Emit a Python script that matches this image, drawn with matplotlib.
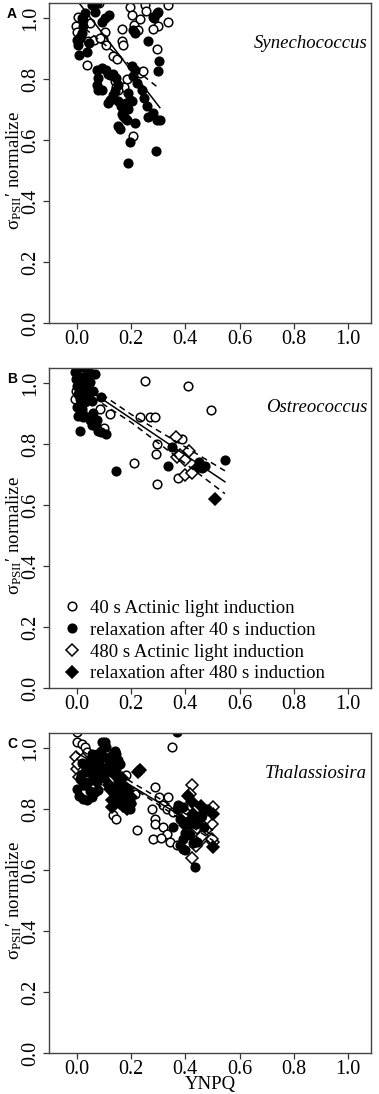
import matplotlib
matplotlib.use("Agg")
import matplotlib.pyplot as plt
from matplotlib.lines import Line2D

plt.rcParams['font.family'] = ['Liberation Serif', 'DejaVu Serif']
plt.rcParams['mathtext.fontset'] = 'custom'
plt.rcParams['mathtext.rm'] = 'Liberation Serif'
plt.rcParams['mathtext.it'] = 'Liberation Serif:italic'
plt.rcParams['mathtext.default'] = 'regular'

# ---------------- Panel A : Synechococcus ----------------
a_open_x = [-0.004, 0.005, -0.001, 0.011, 0.038, 0.048, 0.042, 0.064, 0.082, 0.103, 0.095, 0.109,
            0.132, 0.149, 0.167, 0.171, 0.166, 0.196, 0.202, 0.212, 0.226, 0.232, 0.253, 0.255,
            0.284, 0.300, 0.300, 0.282, 0.294, 0.337, 0.337, 0.183, 0.122, 0.140, 0.146, 0.173,
            0.208, 0.232, 0.245, 0.085, 0.153]
a_open_y = [0.974, 1.002, 0.955, 0.939, 0.847, 0.983, 0.923, 0.928, 1.048, 0.955, 0.930, 0.912,
            0.876, 0.865, 0.923, 0.912, 0.963, 1.037, 1.010, 0.977, 0.961, 0.996, 1.042, 1.024,
            0.999, 1.021, 0.974, 0.963, 0.898, 1.042, 0.988, 0.800, 0.814, 0.792, 0.774, 0.774,
            0.613, 0.819, 0.825, 0.934, 0.765]
a_fill_x = [0.009, 0.005, -0.001, 0.011, 0.017, 0.023, 0.017, 0.030, 0.039, 0.046, 0.054, 0.066,
            0.073, 0.091, 0.103, 0.119, 0.073, 0.079, 0.073, 0.079, 0.091, 0.091, 0.109, 0.116,
            0.122, 0.116, 0.134, 0.146, 0.153, 0.140, 0.134, 0.153, 0.159, 0.165, 0.171, 0.177,
            0.183, 0.189, 0.196, 0.189, 0.202, 0.181, 0.189, 0.196, 0.213, 0.153, 0.161, 0.169,
            0.202, 0.214, 0.208, 0.220, 0.239, 0.247, 0.257, 0.263, 0.282, 0.294, 0.306, 0.290,
            0.300, 0.304, 0.263, 0.214, 0.208, 0.282, 0.294, 0.023]
a_fill_y = [0.879, 0.912, 0.928, 0.934, 0.950, 0.972, 0.999, 1.015, 0.890, 0.917, 1.042, 1.021,
            1.048, 0.988, 0.999, 1.010, 0.830, 0.803, 0.781, 0.765, 0.765, 0.836, 0.830, 0.817,
            0.732, 0.722, 0.817, 0.803, 0.781, 0.760, 0.749, 0.645, 0.635, 0.684, 0.678, 0.673,
            0.665, 0.700, 0.732, 0.754, 0.727, 0.722, 0.526, 0.593, 0.656, 0.727, 0.711, 0.700,
            0.841, 0.830, 0.809, 0.787, 0.765, 0.738, 0.711, 0.676, 0.689, 0.667, 0.665, 0.564,
            0.825, 0.858, 0.926, 0.950, 0.961, 1.004, 1.015, 0.993]
a_fit_x = [0.0, 0.306]
a_fit_y = [1.058, 0.706]
a_dash1_x = [0.03, 0.296]
a_dash1_y = [0.965, 0.774]

# ---------------- Panel B : Ostreococcus ----------------
b_open_x = [0.251, 0.408, 0.493, 0.122, 0.232, 0.269, 0.288, 0.100, 0.296, 0.386, 0.292, 0.212,
            0.294, 0.374, -0.007, -0.004, 0.085, 0.042]
b_open_y = [1.008, 0.989, 0.910, 0.899, 0.888, 0.888, 0.888, 0.853, 0.801, 0.817, 0.768, 0.736,
            0.670, 0.689, 0.946, 0.975, 0.915, 0.953]
b_odia_x = [0.365, 0.413, 0.370, 0.380, 0.399, 0.399, 0.423]
b_odia_y = [0.823, 0.777, 0.757, 0.765, 0.747, 0.698, 0.706]
b_fill_x = [-0.007, -0.004, 0.001, 0.005, 0.011, 0.009, 0.017, 0.005, 0.036, 0.048, 0.060, 0.073,
            0.054, 0.023, 0.011, 0.079, 0.109, 0.030, 0.048, 0.060, 0.066, 0.036, 0.023, 0.048,
            0.054, 0.089, 0.017, 0.042, 0.144, 0.337, 0.349, 0.451, 0.460, 0.472, 0.546,
            0.000, 0.010, 0.020, 0.030, 0.010, 0.000, 0.020, 0.040, 0.060, 0.070, 0.090]
b_fill_y = [1.035, 1.013, 0.991, 0.964, 0.948, 0.926, 0.904, 0.893, 0.888, 0.877, 0.872, 0.877,
            0.861, 0.888, 0.844, 0.844, 0.834, 0.937, 0.970, 0.975, 1.029, 1.029, 1.002, 1.002,
            0.942, 0.955, 1.051, 1.046, 0.711, 0.727, 0.790, 0.741, 0.722, 0.727, 0.749,
            1.045, 1.020, 0.980, 0.960, 0.970, 0.920, 0.915, 0.990, 0.900, 0.860, 0.840]
b_fdia_x = [0.509, 0.448, 0.011]
b_fdia_y = [0.618, 0.725, 0.986]
b_fit_x = [0.0, 0.546]
b_fit_y = [1.003, 0.676]
b_up_x = [0.06, 0.20, 0.546]
b_up_y = [0.982, 0.897, 0.712]
b_lo_x = [0.06, 0.20, 0.546]
b_lo_y = [0.952, 0.871, 0.637]

# ---------------- Panel C : Thalassiosira ----------------
c_open_x = [0.001, -0.001, 0.017, 0.030, 0.036, 0.349, 0.181, 0.214, 0.288, 0.304, 0.337, 0.276,
            0.316, 0.331, 0.355, 0.132, 0.146, 0.220, 0.288, 0.288, 0.319, 0.331, 0.279, 0.312,
            0.343, 0.368]
c_open_y = [1.051, 1.021, 1.013, 1.002, 0.986, 1.002, 0.912, 0.850, 0.872, 0.839, 0.839, 0.801,
            0.812, 0.801, 0.790, 0.779, 0.768, 0.730, 0.768, 0.752, 0.741, 0.719, 0.703, 0.705,
            0.692, 0.681]
c_odia_x = [-0.004, 0.001, 0.005, 0.009, 0.423, 0.417, 0.503, 0.497, 0.472, 0.451, 0.460, 0.429,
            0.442, 0.423, 0.503, 0.399, 0.478, 0.405, 0.023, 0.440, 0.460, 0.480, 0.500, 0.430]
c_odia_y = [0.970, 0.931, 0.948, 0.904, 0.879, 0.850, 0.806, 0.752, 0.790, 0.725, 0.703, 0.714,
            0.736, 0.638, 0.692, 0.774, 0.730, 0.785, 0.964, 0.680, 0.710, 0.770, 0.700, 0.770]
c_fill_x = [-0.001, 0.009, 0.023, 0.038, 0.054, 0.066, 0.079, 0.011, 0.023, 0.030, 0.038, 0.048,
            0.060, 0.073, 0.091, 0.103, 0.109, 0.085, 0.079, 0.073, 0.042, 0.060, 0.140, 0.146,
            0.140, 0.159, 0.146, 0.153, 0.134, 0.165, 0.374, 0.392, 0.380, 0.390, 0.399, 0.380,
            0.355, 0.435, 0.368, 0.417, 0.442, 0.189, 0.171,
            0.020, 0.030, 0.050, 0.060, 0.070, 0.080, 0.090, 0.100, 0.100, 0.015, 0.045, 0.055,
            0.120, 0.130, 0.150, 0.160, 0.170, 0.180, 0.150, 0.140, 0.200, 0.195,
            0.370, 0.400, 0.410, 0.440, 0.460, 0.470, 0.480, 0.390, 0.430]
c_fill_y = [0.866, 0.844, 0.834, 0.828, 0.839, 0.855, 0.861, 0.899, 0.877, 0.921, 0.942, 0.959,
            0.970, 0.980, 1.018, 1.021, 1.002, 0.942, 0.910, 0.888, 0.888, 0.910, 0.986, 0.980,
            0.959, 0.948, 0.931, 0.888, 0.866, 0.861, 0.812, 0.806, 0.768, 0.670, 0.665, 0.681,
            0.741, 0.611, 1.051, 0.714, 0.692, 0.844, 0.823,
            0.950, 0.880, 0.860, 0.940, 0.920, 0.960, 0.990, 0.900, 0.970, 0.910, 0.920, 0.980,
            0.950, 0.920, 0.900, 0.870, 0.860, 0.830, 0.960, 0.990, 0.820, 0.800,
            0.800, 0.720, 0.760, 0.750, 0.780, 0.740, 0.800, 0.700, 0.690]
c_fdia_x = [0.232, 0.224, 0.128, 0.183, 0.122, 0.153, 0.171, 0.411, 0.423, 0.456, 0.429, 0.454,
            0.503, 0.503, 0.399, 0.417, 0.159, 0.140, 0.196,
            0.140, 0.160, 0.170, 0.180, 0.130, 0.120, 0.200, 0.190, 0.110, 0.125, 0.145, 0.165]
c_fdia_y = [0.928, 0.921, 0.806, 0.801, 0.866, 0.834, 0.844, 0.844, 0.823, 0.809, 0.785, 0.768,
            0.785, 0.676, 0.747, 0.752, 0.899, 0.910, 0.817,
            0.850, 0.820, 0.810, 0.870, 0.830, 0.880, 0.840, 0.860, 0.920, 0.970, 0.940, 0.900]
c_fit_x = [0.0, 0.503]
c_fit_y = [0.984, 0.713]
c_up_x = [0.02, 0.22, 0.503]
c_up_y = [0.990, 0.878, 0.731]
c_lo_x = [0.02, 0.22, 0.503]
c_lo_y = [0.960, 0.861, 0.696]

x_ticks = [0.0, 0.2, 0.4, 0.6, 0.8, 1.0]
y_ticks = [0.0, 0.2, 0.4, 0.6, 0.8, 1.0]
species = ["Synechococcus", "Ostreococcus", "Thalassiosira"]
letters = ["A", "B", "C"]
legend_labels = ["40 s Actinic light induction", "relaxation after 40 s induction",
                 "480 s Actinic light induction", "relaxation after 480 s induction"]

FS = 13.5
FS_TICK = 14.5
W, H = 379, 1094
fig = plt.figure(figsize=(W / 100, H / 100), dpi=100)

# axes pixel boxes: left, top, right, bottom
boxes = [(49, 3, 371, 323), (49, 368, 371, 688), (49, 733, 371, 1053)]
axes = []
for (l, t, r, b) in boxes:
    ax = fig.add_axes([l / W, 1 - b / H, (r - l) / W, (b - t) / H])
    axes.append(ax)

ms_c = 6.2
ms_d = 6.6
mew = 1.1


def pts(ax, x, y, marker, filled):
    ms = ms_c if marker == 'o' else ms_d
    ax.plot(x, y, linestyle='none', marker=marker, ms=ms, mew=mew,
            mec='black', mfc='black' if filled else 'white', clip_on=True)


pts(axes[0], a_open_x, a_open_y, 'o', False)
pts(axes[0], a_fill_x, a_fill_y, 'o', True)
axes[0].plot(a_fit_x, a_fit_y, color='black', lw=1.1)
axes[0].plot(a_dash1_x, a_dash1_y, color='black', lw=1.1, dashes=(4, 3))

pts(axes[1], b_open_x, b_open_y, 'o', False)
pts(axes[1], b_fill_x, b_fill_y, 'o', True)
pts(axes[1], b_odia_x, b_odia_y, 'D', False)
pts(axes[1], b_fdia_x, b_fdia_y, 'D', True)
axes[1].plot(b_fit_x, b_fit_y, color='black', lw=1.1)
axes[1].plot(b_up_x, b_up_y, color='black', lw=1.1, dashes=(4, 3))
axes[1].plot(b_lo_x, b_lo_y, color='black', lw=1.1, dashes=(4, 3))

pts(axes[2], c_open_x, c_open_y, 'o', False)
pts(axes[2], c_odia_x, c_odia_y, 'D', False)
pts(axes[2], c_fill_x, c_fill_y, 'o', True)
pts(axes[2], c_fdia_x, c_fdia_y, 'D', True)
axes[2].plot(c_fit_x, c_fit_y, color='black', lw=1.1)
axes[2].plot(c_up_x, c_up_y, color='black', lw=1.1, dashes=(4, 3))
axes[2].plot(c_lo_x, c_lo_y, color='black', lw=1.1, dashes=(4, 3))

for i, ax in enumerate(axes):
    ax.set_xlim(-0.103, 1.085)
    ax.set_ylim(0.0, 1.049)
    ax.set_xticks(x_ticks)
    ax.set_xticklabels([f"{v:.1f}" for v in x_ticks])
    ax.set_yticks(y_ticks)
    ax.set_yticklabels([f"{v:.1f}" for v in y_ticks], rotation=90, va='center')
    ax.tick_params(axis='both', direction='out', length=4, width=0.9, labelsize=FS_TICK,
                   color='#333333', pad=2)
    ax.tick_params(axis='x', pad=1.2)
    for s in ax.spines.values():
        s.set_color('#444444')
        s.set_linewidth(1.0)
    ax.text(0.988, 0.875, species[i], transform=ax.transAxes, ha='right', va='center',
            fontsize=FS, style='italic')
    l, t, r, b = boxes[i]
    fig.text(12 / W, 1 - (t + 11) / H, letters[i], fontsize=10, fontweight='bold',
             family='Liberation Sans', ha='center', va='center')
    fig.text(14 / W, 1 - ((t + b) / 2 + 8) / H, r'$\sigma_{\mathrm{PSII}}$' + '\u2032 normalize',
             rotation=90, ha='center', va='center', fontsize=FS)

fig.text(210 / W, 1 - 1093 / H, "YNPQ", ha='center', va='bottom', fontsize=FS)

handles = [Line2D([], [], ls='none', marker='o', ms=ms_c, mew=mew, mec='black', mfc='white'),
           Line2D([], [], ls='none', marker='o', ms=ms_c, mew=mew, mec='black', mfc='black'),
           Line2D([], [], ls='none', marker='D', ms=ms_d * 0.85, mew=mew, mec='black', mfc='white'),
           Line2D([], [], ls='none', marker='D', ms=ms_d * 0.85, mew=mew, mec='black', mfc='black')]
axes[1].legend(handles, legend_labels, loc='lower left', bbox_to_anchor=(0.025, 0.0),
               frameon=False, fontsize=FS, handlelength=1.0, handletextpad=0.45,
               labelspacing=0.25, borderpad=0.3, borderaxespad=0.0)

fig.savefig("out.png", dpi=100)
